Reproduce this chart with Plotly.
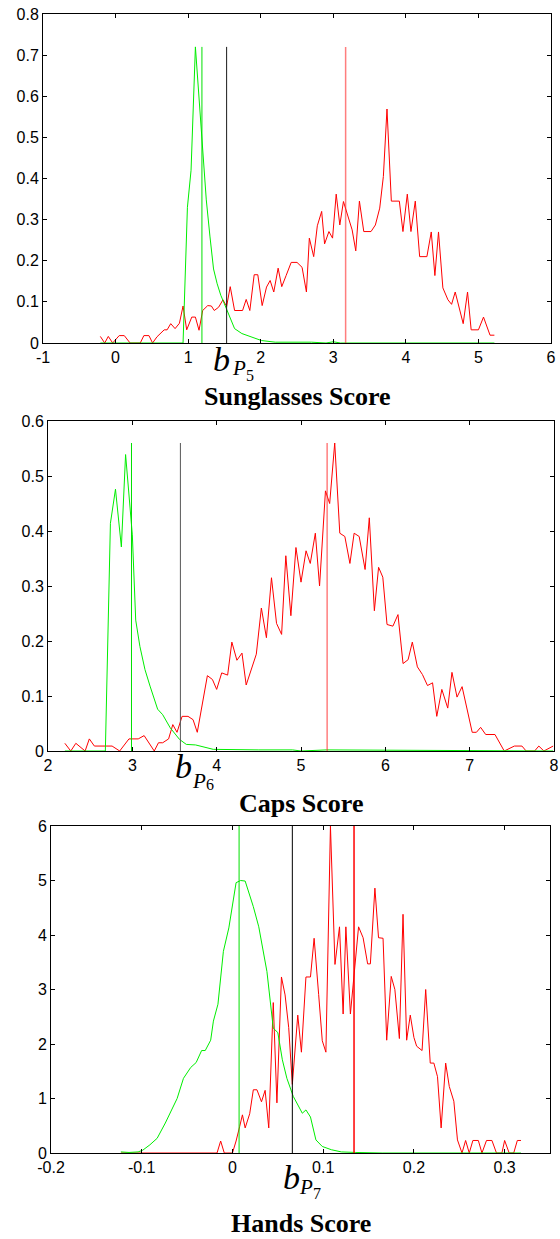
import plotly.graph_objects as go

W, H = 560, 1239

# ---------------- Sunglasses score histograms ----------------
sun_red_x = [-0.21, -0.15, -0.10, -0.04, 0.05, 0.12, 0.20, 0.34, 0.39, 0.46,
             0.51, 0.57, 0.67, 0.71, 0.76, 0.82, 0.88, 0.93, 0.98, 1.05,
             1.10, 1.15, 1.20, 1.27, 1.32, 1.36, 1.42, 1.48, 1.53, 1.58,
             1.64, 1.75, 1.80, 1.85, 1.91, 1.96, 2.02, 2.08, 2.13, 2.18,
             2.24, 2.29, 2.35, 2.42, 2.50, 2.57, 2.63, 2.67, 2.73, 2.78,
             2.84, 2.88, 2.94, 2.99, 3.04, 3.09, 3.14, 3.20, 3.26, 3.31,
             3.36, 3.42, 3.52, 3.58, 3.64, 3.69, 3.74, 3.80, 3.91, 3.96,
             4.02, 4.07, 4.13, 4.19, 4.29, 4.35, 4.40, 4.45, 4.51, 4.58,
             4.63, 4.68, 4.74, 4.79, 4.85, 4.90, 5.00, 5.07, 5.16, 5.22]
sun_red_y = [0.016, 0.0, 0.016, 0.0, 0.018, 0.018, 0.0, 0.0, 0.018, 0.018,
             0.0, 0.015, 0.032, 0.032, 0.047, 0.035, 0.048, 0.090, 0.032, 0.063,
             0.063, 0.031, 0.079, 0.091, 0.090, 0.079, 0.087, 0.105, 0.089, 0.137,
             0.079, 0.079, 0.106, 0.079, 0.166, 0.166, 0.091, 0.136, 0.152, 0.124,
             0.182, 0.137, 0.164, 0.196, 0.196, 0.184, 0.124, 0.255, 0.210, 0.285,
             0.320, 0.241, 0.271, 0.255, 0.362, 0.287, 0.344, 0.311, 0.275, 0.224,
             0.345, 0.271, 0.271, 0.287, 0.328, 0.405, 0.569, 0.345, 0.345, 0.271,
             0.362, 0.271, 0.345, 0.210, 0.210, 0.270, 0.164, 0.270, 0.134, 0.105,
             0.094, 0.124, 0.079, 0.047, 0.124, 0.032, 0.032, 0.063, 0.019, 0.019]
sun_green_x = [-0.21, 0.93, 0.99, 1.04, 1.10, 1.25, 1.30, 1.35, 1.40, 1.45,
               1.50, 1.57, 1.64, 1.74, 1.86, 2.01, 2.20, 2.70, 2.90, 3.00,
               3.10, 5.22]
sun_green_y = [0.0, 0.0, 0.330, 0.420, 0.720, 0.348, 0.260, 0.180, 0.144, 0.116,
               0.095, 0.063, 0.035, 0.023, 0.015, 0.006, 0.002, 0.002, 0.0, 0.003,
               0.0, 0.0]
sun_means = {"green": 1.19, "black": 1.53, "red": 3.17}

# ---------------- Caps score histograms ----------------
caps_red_x = [2.20, 2.27, 2.33, 2.44, 2.49, 2.55, 2.76, 2.85, 2.96, 3.07,
              3.14, 3.26, 3.31, 3.36, 3.43, 3.48, 3.53, 3.59, 3.66, 3.72,
              3.77, 3.89, 3.95, 4.00, 4.06, 4.13, 4.18, 4.24, 4.30, 4.35,
              4.47, 4.53, 4.59, 4.65, 4.71, 4.77, 4.82, 4.88, 4.94, 5.00,
              5.06, 5.11, 5.17, 5.22, 5.29, 5.34, 5.40, 5.46, 5.52, 5.58,
              5.63, 5.69, 5.76, 5.81, 5.87, 5.92, 5.97, 6.02, 6.09, 6.15,
              6.21, 6.27, 6.32, 6.38, 6.44, 6.50, 6.56, 6.61, 6.67, 6.74,
              6.79, 6.85, 6.91, 6.96, 7.03, 7.08, 7.13, 7.19, 7.30, 7.41,
              7.53, 7.62, 7.67, 7.77, 7.82, 7.88, 7.99]
caps_red_y = [0.014, 0.0, 0.014, 0.0, 0.022, 0.009, 0.009, 0.0, 0.022, 0.022,
              0.028, 0.0, 0.015, 0.015, 0.022, 0.048, 0.034, 0.063, 0.063, 0.057,
              0.034, 0.137, 0.130, 0.112, 0.142, 0.138, 0.198, 0.165, 0.178, 0.120,
              0.176, 0.260, 0.206, 0.315, 0.232, 0.212, 0.355, 0.246, 0.370, 0.307,
              0.364, 0.341, 0.396, 0.300, 0.473, 0.450, 0.560, 0.396, 0.390, 0.341,
              0.396, 0.390, 0.330, 0.424, 0.255, 0.334, 0.316, 0.230, 0.227, 0.248,
              0.159, 0.166, 0.198, 0.153, 0.139, 0.119, 0.124, 0.063, 0.112, 0.078,
              0.143, 0.098, 0.117, 0.083, 0.034, 0.034, 0.043, 0.030, 0.030, 0.0,
              0.009, 0.009, 0.0, 0.0, 0.009, 0.0, 0.009]
caps_green_x = [2.20, 2.68, 2.74, 2.80, 2.87, 2.92, 3.00, 3.04, 3.09, 3.15,
                3.21, 3.30, 3.36, 3.45, 3.56, 3.64, 3.75, 3.96, 4.50, 4.90,
                5.00, 5.30, 7.99]
caps_green_y = [0.0, 0.0, 0.414, 0.476, 0.371, 0.539, 0.393, 0.238, 0.190, 0.148,
                0.118, 0.076, 0.066, 0.042, 0.021, 0.012, 0.011, 0.003, 0.002, 0.002,
                0.0, 0.002, 0.0]
caps_means = {"green": 2.99, "black": 3.57, "red": 5.31}

# ---------------- Hands score histograms ----------------
hands_red_x = [-0.123, -0.017, -0.013, -0.009, 0.000, 0.004, 0.008, 0.011, 0.014, 0.019,
               0.023, 0.027, 0.032, 0.036, 0.040, 0.045, 0.049, 0.054, 0.058, 0.062,
               0.066, 0.072, 0.076, 0.081, 0.086, 0.090, 0.095, 0.099, 0.103, 0.108,
               0.113, 0.118, 0.122, 0.125, 0.130, 0.139, 0.144, 0.149, 0.152, 0.157,
               0.161, 0.166, 0.170, 0.175, 0.179, 0.184, 0.188, 0.192, 0.196, 0.200,
               0.203, 0.209, 0.213, 0.218, 0.222, 0.226, 0.230, 0.235, 0.239, 0.244,
               0.248, 0.253, 0.257, 0.261, 0.265, 0.271, 0.275, 0.280, 0.286, 0.291,
               0.297, 0.300, 0.305, 0.310, 0.314, 0.318]
hands_red_y = [0.0, 0.0, 0.22, 0.0, 0.0, 0.22, 0.49, 0.70, 0.46, 0.72,
               1.16, 1.16, 0.94, 1.15, 0.46, 2.76, 0.92, 3.23, 2.90, 2.30,
               1.26, 2.53, 1.85, 3.23, 3.23, 3.94, 2.91, 2.06, 1.85, 6.00,
               3.46, 4.15, 2.55, 4.15, 2.55, 4.15, 3.95, 3.47, 3.47, 4.86,
               3.95, 3.94, 2.07, 3.24, 3.00, 2.10, 4.38, 2.07, 2.53, 2.12,
               1.96, 1.88, 3.00, 1.65, 1.65, 1.40, 0.46, 1.65, 1.22, 0.95,
               0.24, 0.0, 0.23, 0.0, 0.23, 0.23, 0.0, 0.23, 0.23, 0.0,
               0.0, 0.23, 0.0, 0.0, 0.23, 0.23]
hands_green_x = [-0.123, -0.114, -0.104, -0.099, -0.091, -0.083, -0.074, -0.067, -0.061, -0.054,
                 -0.046, -0.040, -0.034, -0.030, -0.024, -0.021, -0.016, -0.010, -0.004, 0.004,
                 0.009, 0.014, 0.023, 0.029, 0.038, 0.045, 0.050, 0.055, 0.060, 0.067,
                 0.072, 0.077, 0.081, 0.086, 0.092, 0.099, 0.109, 0.120, 0.136, 0.165,
                 0.318]
hands_green_y = [0.02, 0.01, 0.02, 0.05, 0.15, 0.27, 0.55, 0.79, 1.00, 1.37,
                 1.57, 1.66, 1.88, 1.88, 2.07, 2.42, 2.73, 3.70, 4.13, 4.96,
                 5.00, 4.99, 4.52, 4.15, 3.33, 2.29, 2.21, 1.71, 1.37, 1.04,
                 0.88, 0.73, 0.79, 0.66, 0.24, 0.12, 0.06, 0.02, 0.01, 0.0,
                 0.0]
hands_means = {"green": 0.0073, "black": 0.066, "red": 0.134}

# axis ticks
sun_xticks = [-1, 0, 1, 2, 3, 4, 5, 6]
sun_xtext = ["-1", "0", "1", "2", "3", "4", "5", "6"]
sun_yticks = [0, 0.1, 0.2, 0.3, 0.4, 0.5, 0.6, 0.7, 0.8]
sun_ytext = ["0", "0.1", "0.2", "0.3", "0.4", "0.5", "0.6", "0.7", "0.8"]
caps_xticks = [2, 3, 4, 5, 6, 7, 8]
caps_xtext = ["2", "3", "4", "5", "6", "7", "8"]
caps_yticks = [0, 0.1, 0.2, 0.3, 0.4, 0.5, 0.6]
caps_ytext = ["0", "0.1", "0.2", "0.3", "0.4", "0.5", "0.6"]
hands_xticks = [-0.2, -0.1, 0, 0.1, 0.2, 0.3]
hands_xtext = ["-0.2", "-0.1", "0", "0.1", "0.2", "0.3"]
hands_yticks = [0, 1, 2, 3, 4, 5, 6]
hands_ytext = ["0", "1", "2", "3", "4", "5", "6"]

panels = [
    dict(red=(sun_red_x, sun_red_y), green=(sun_green_x, sun_green_y), means=sun_means,
         xr=[-1, 6], yr=[0, 0.8], xt=(sun_xticks, sun_xtext), yt=(sun_yticks, sun_ytext),
         box=(43, 551, 14, 343), title="Sunglasses Score", title_y=396, sub="5",
         red_line="rgba(255,40,40,0.6)", black_line="#1a1a1a",
         lab_shift=(-5, 12, 23), lab_y=(359, 368, 375)),
    dict(red=(caps_red_x, caps_red_y), green=(caps_green_x, caps_green_y), means=caps_means,
         xr=[2, 8], yr=[0, 0.6], xt=(caps_xticks, caps_xtext), yt=(caps_yticks, caps_ytext),
         box=(48, 554, 421, 751), title="Caps Score", title_y=803, sub="6",
         red_line="rgba(255,40,40,0.6)", black_line="#555555",
         lab_shift=(3, 19, 30), lab_y=(766, 781, 785)),
    dict(red=(hands_red_x, hands_red_y), green=(hands_green_x, hands_green_y), means=hands_means,
         xr=[-0.2, 0.35], yr=[0, 6], xt=(hands_xticks, hands_xtext), yt=(hands_yticks, hands_ytext),
         box=(51, 550, 826, 1153), title="Hands Score", title_y=1223, sub="7",
         red_line="#ff0000", black_line="#000000",
         lab_shift=(-1, 14, 25), lab_y=(1177, 1187, 1193)),
]

fig = go.Figure()
annotations = []
tick_font = dict(family="Liberation Sans, Arial, sans-serif", size=16, color="#000000")
serif = "Liberation Serif, Times New Roman, serif"

for i, p in enumerate(panels, start=1):
    xa = "x" if i == 1 else f"x{i}"
    ya = "y" if i == 1 else f"y{i}"
    rx, ry = p["red"]
    gx, gy = p["green"]
    top = max(max(ry), max(gy))

    fig.add_trace(go.Scatter(x=rx, y=ry, mode="lines", xaxis=xa, yaxis=ya,
                             line=dict(color="#ff0000", width=1), showlegend=False))
    fig.add_trace(go.Scatter(x=gx, y=gy, mode="lines", xaxis=xa, yaxis=ya,
                             line=dict(color="#00ee00", width=1), showlegend=False))
    # vertical marker lines at the class means and the decision threshold
    for key, col in (("green", "#00e000"), ("black", p["black_line"]), ("red", p["red_line"])):
        m = p["means"][key]
        fig.add_trace(go.Scatter(x=[m, m], y=[0, top], mode="lines", xaxis=xa, yaxis=ya,
                                 line=dict(color=col, width=1.5 if key == "red" else 1),
                                 showlegend=False))

    l, r, t, b = p["box"]
    suffix = "" if i == 1 else str(i)
    common = dict(showline=True, linecolor="#000000", linewidth=1, mirror="ticks",
                  ticks="inside", ticklen=4, tickcolor="#000000", showgrid=False,
                  zeroline=False, tickfont=tick_font, automargin=False, fixedrange=True)
    fig.update_layout(**{
        f"xaxis{suffix}": dict(domain=[l / W, r / W], range=p["xr"], anchor=ya,
                               tickmode="array", tickvals=p["xt"][0], ticktext=p["xt"][1],
                               **common),
        f"yaxis{suffix}": dict(domain=[1 - b / H, 1 - t / H], range=p["yr"], anchor=xa,
                               tickmode="array", tickvals=p["yt"][0], ticktext=p["yt"][1],
                               **common),
    })

    annotations.append(dict(text="<b>" + p["title"] + "</b>", xref="paper", yref="paper",
                            x=(l + r) / 2 / W, y=1 - p["title_y"] / H, showarrow=False,
                            xanchor="center", yanchor="middle",
                            font=dict(family=serif, size=26, color="#000000")))
    # threshold label b_{P_k}
    m = p["means"]["black"]
    parts = [("b", 34), ("P", 21), (p["sub"], 16)]
    for (txt, size), dx, py in zip(parts, p["lab_shift"], p["lab_y"]):
        annotations.append(dict(text=txt if txt.isdigit() else "<i>" + txt + "</i>",
                                xref=xa, yref="paper", x=m, xshift=dx,
                                y=1 - py / H, showarrow=False,
                                xanchor="center", yanchor="middle",
                                font=dict(family=serif, size=size, color="#000000")))

fig.update_layout(width=W, height=H, margin=dict(l=0, r=0, t=0, b=0),
                  paper_bgcolor="#ffffff", plot_bgcolor="#ffffff",
                  annotations=annotations, showlegend=False)

fig.write_html("out.html")
